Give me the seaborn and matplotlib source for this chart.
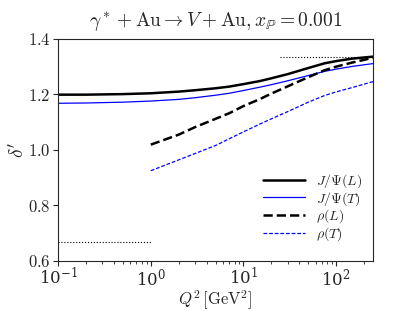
import pandas as pd
import matplotlib
matplotlib.use("Agg")
import matplotlib.pyplot as plt
import seaborn as sns
from matplotlib.ticker import FuncFormatter

# Values
q2_jpsi = [0.1, 0.2, 0.5, 1, 2, 3, 5, 7, 10, 15, 20, 30, 50, 75, 100, 150, 250]
jpsi_L = [1.199, 1.199, 1.201, 1.204, 1.210, 1.215, 1.222, 1.228, 1.237, 1.248,
          1.258, 1.273, 1.295, 1.312, 1.320, 1.329, 1.336]
jpsi_T = [1.168, 1.169, 1.172, 1.176, 1.182, 1.188, 1.197, 1.204, 1.214, 1.226,
          1.235, 1.249, 1.268, 1.283, 1.291, 1.301, 1.311]

q2_rho = [1, 2, 3, 5, 7, 10, 15, 20, 30, 50, 75, 100, 150, 250]
rho_L = [1.019, 1.055, 1.082, 1.112, 1.132, 1.158, 1.183, 1.203, 1.229, 1.262,
         1.287, 1.300, 1.315, 1.332]
rho_T = [0.925, 0.964, 0.987, 1.016, 1.040, 1.065, 1.093, 1.112, 1.138, 1.172,
         1.196, 1.209, 1.225, 1.246]

# limit lines
low_x = [0.1, 1.0]
low_y = [2 / 3, 2 / 3]
high_x = [25, 250]
high_y = [4 / 3, 4 / 3]

sns.set_style("ticks")
plt.rcParams["font.family"] = ["DejaVu Serif"]
plt.rcParams["mathtext.fontset"] = "cm"

fig = plt.figure(figsize=(4.15, 3.11), dpi=100)
ax = fig.add_axes([0.140, 0.161, 0.759, 0.714])

df_j = pd.DataFrame({"Q2": q2_jpsi, "L": jpsi_L, "T": jpsi_T})
df_r = pd.DataFrame({"Q2": q2_rho, "L": rho_L, "T": rho_T})

sns.lineplot(data=df_j, x="Q2", y="L", ax=ax, color="black", lw=1.8,
             label=r"$J/\Psi(L)$")
sns.lineplot(data=df_j, x="Q2", y="T", ax=ax, color="blue", lw=0.9,
             label=r"$J/\Psi(T)$")
sns.lineplot(data=df_r, x="Q2", y="L", ax=ax, color="black", lw=1.8,
             linestyle="--", label=r"$\rho(L)$")
sns.lineplot(data=df_r, x="Q2", y="T", ax=ax, color="blue", lw=0.9,
             linestyle=(0, (3, 1.5)), label=r"$\rho(T)$")
ax.plot(low_x, low_y, color="black", lw=0.8, linestyle=":")
ax.plot(high_x, high_y, color="black", lw=0.8, linestyle=":")

ax.set_xscale("log")
ax.set_xlim(0.1, 250)
ax.set_ylim(0.6, 1.4)
ax.set_yticks([0.6, 0.8, 1.0, 1.2, 1.4])
ax.yaxis.set_major_formatter(FuncFormatter(lambda v, p: r"$%.1f$" % v))
ax.tick_params(labelsize=12, pad=2)
ax.tick_params(axis="x", pad=1)

ax.set_xlabel(r"$Q^2\,[\mathrm{GeV}^2]$", fontsize=12)
ax.xaxis.set_label_coords(0.5, -0.125)
ax.set_ylabel(r"$\delta'$", fontsize=14)
ax.yaxis.set_label_coords(-0.095, 0.5)
ax.set_title(r"$\gamma^* + \mathrm{Au} \rightarrow V + \mathrm{Au}, x_{\mathbb{P}} = 0.001$",
             fontsize=14, pad=9)

ax.legend(loc="lower right", bbox_to_anchor=(1.0, 0.03), frameon=False,
          fontsize=10, handlelength=3.0, handletextpad=0.8,
          labelspacing=0.0, borderaxespad=0.4)

fig.savefig("out.png", dpi=100)
